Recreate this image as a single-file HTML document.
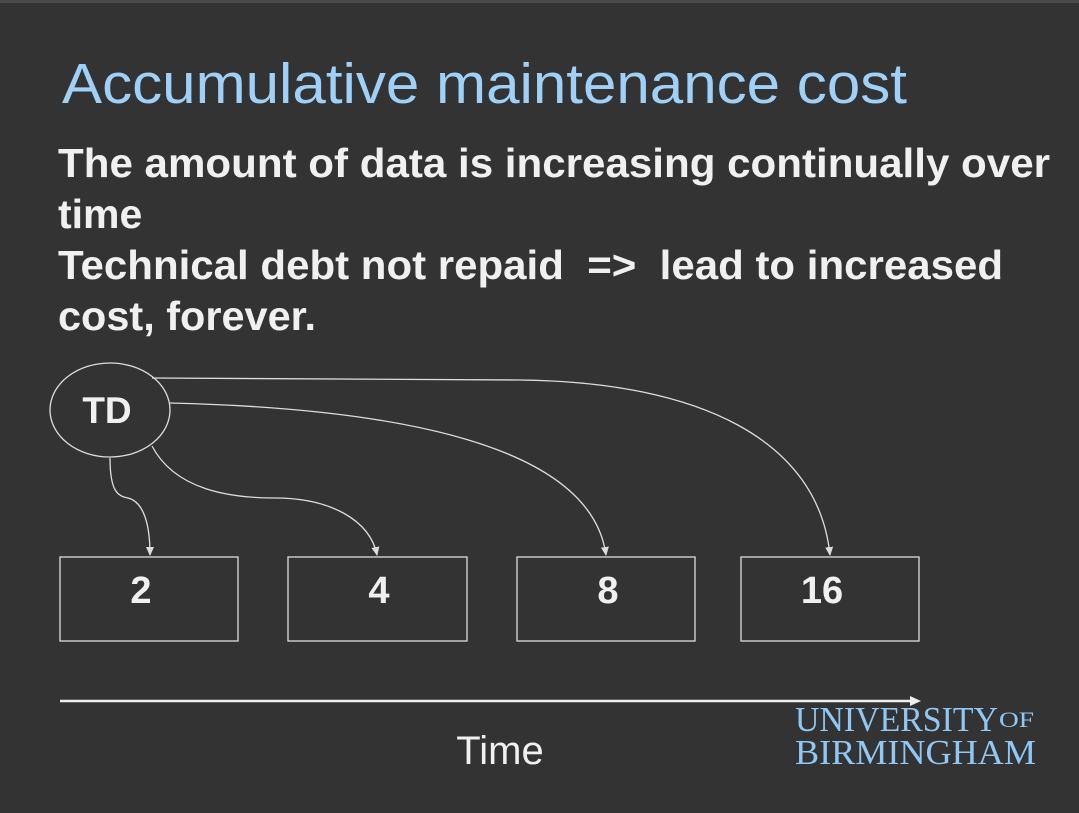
<!DOCTYPE html>
<html><head><meta charset="utf-8"><style>
html,body{margin:0;padding:0;background:#333;}
svg{display:block;}
</style></head><body>
<svg width="1079" height="813" viewBox="0 0 1079 813">
<rect x="0" y="0" width="1079" height="813" fill="#333333"/>
<rect x="0" y="0" width="1079" height="3" fill="#4a4a4a"/>
<text x="62" y="103" font-family="Liberation Sans, sans-serif" font-size="57" fill="#9fd0f8" textLength="845" lengthAdjust="spacingAndGlyphs">Accumulative maintenance cost</text>
<g font-family="Liberation Sans, sans-serif" font-weight="bold" font-size="41" fill="#f0f0f0">
<text x="58" y="177" textLength="992" lengthAdjust="spacingAndGlyphs">The amount of data is increasing continually over</text>
<text x="58" y="228">time</text>
<text x="58" y="279" textLength="945" lengthAdjust="spacingAndGlyphs" xml:space="preserve">Technical debt not repaid  =&gt;  lead to increased</text>
<text x="58" y="330" textLength="258" lengthAdjust="spacingAndGlyphs">cost, forever.</text>
</g>
<defs><marker id="ah" markerWidth="10" markerHeight="10" refX="8" refY="5" orient="auto" markerUnits="userSpaceOnUse"><path d="M0,1 L9,5 L0,9 Z" fill="#ddd"/></marker></defs>
<g fill="none" stroke="#ddd" stroke-width="1.3">
<path d="M110,458 C110,492 118,496 128,498 C144,502 150,525 150,555" marker-end="url(#ah)"/>
<path d="M152,446 C175,490 230,498 275,498 C330,498 370,520 377,555" marker-end="url(#ah)"/>
<path d="M170,403 C380,408 590,440 606,555" marker-end="url(#ah)"/>
<path d="M152,378 L520,380 C700,382 818,440 830,555" marker-end="url(#ah)"/>
</g>
<ellipse cx="110" cy="410" rx="60" ry="47" fill="none" stroke="#ddd" stroke-width="1.3"/>
<text x="107" y="423" text-anchor="middle" font-family="Liberation Sans, sans-serif" font-weight="bold" font-size="37" fill="#f0f0f0">TD</text>
<g fill="none" stroke="#ddd" stroke-width="1.3">
<rect x="60" y="557" width="178" height="84"/>
<rect x="288" y="557" width="179" height="84"/>
<rect x="517" y="557" width="178" height="84"/>
<rect x="741" y="557" width="178" height="84"/>
</g>
<g font-family="Liberation Sans, sans-serif" font-weight="bold" font-size="38" fill="#f0f0f0" text-anchor="middle">
<text x="141" y="603">2</text>
<text x="379" y="603">4</text>
<text x="608" y="603">8</text>
<text x="822" y="603">16</text>
</g>
<line x1="60" y1="701" x2="912" y2="701" stroke="#eee" stroke-width="2.5"/>
<path d="M910,696 L921,701 L910,706 Z" fill="#eee"/>
<text x="500" y="764" text-anchor="middle" font-family="Liberation Sans, sans-serif" font-size="40" fill="#f0f0f0">Time</text>
<g font-family="Liberation Serif, serif" fill="#8fc8f5">
<text x="795" y="731" font-size="35" textLength="203" lengthAdjust="spacingAndGlyphs">UNIVERSITY</text>
<text x="999" y="727" font-size="22" textLength="35" lengthAdjust="spacingAndGlyphs">OF</text>
<text x="795" y="764" font-size="35" textLength="241" lengthAdjust="spacingAndGlyphs">BIRMINGHAM</text>
</g>
</svg>
</body></html>
